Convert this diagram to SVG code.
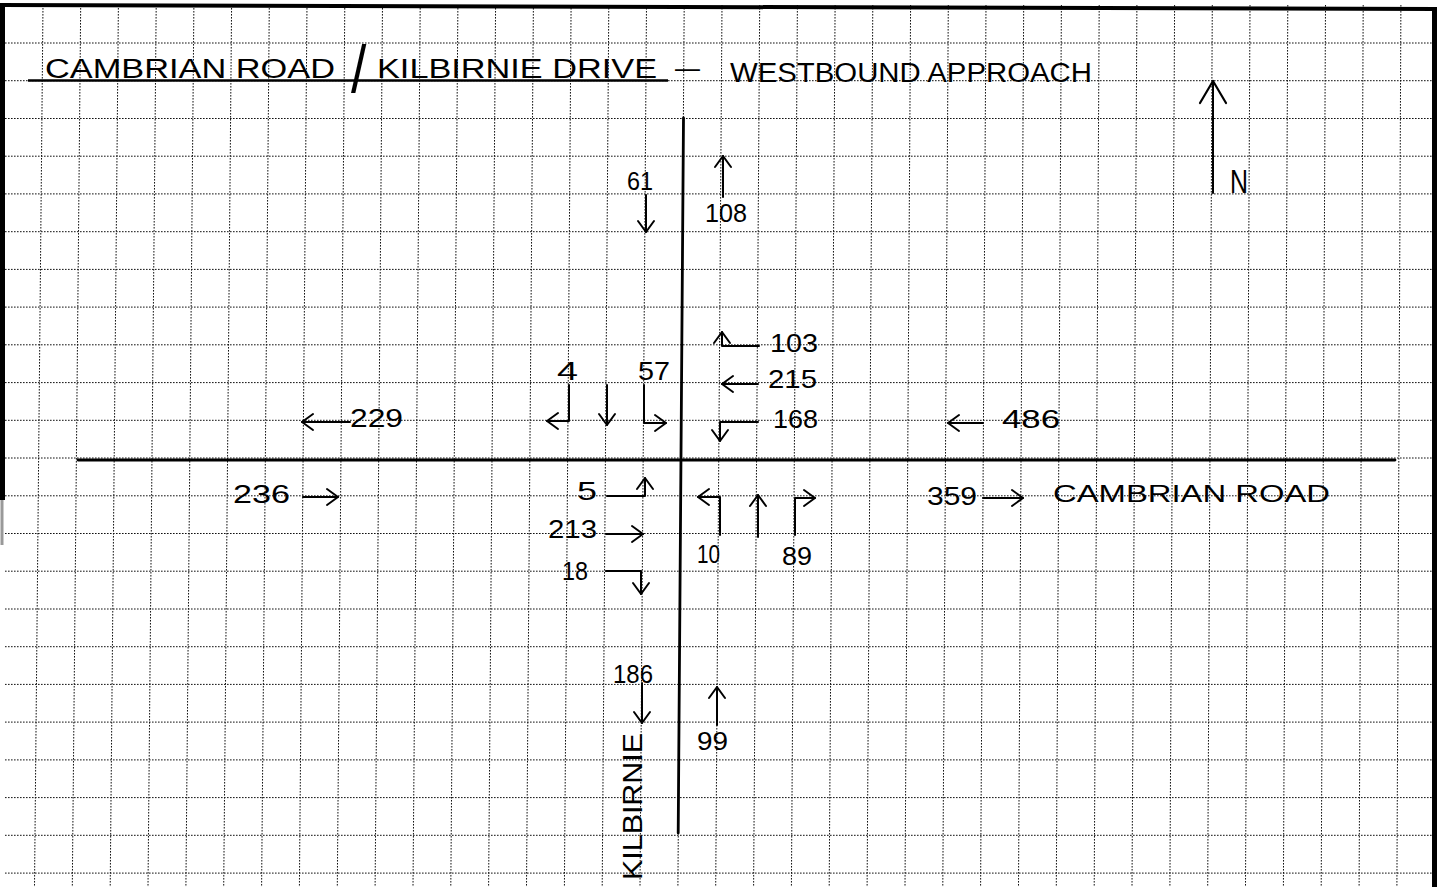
<svg xmlns="http://www.w3.org/2000/svg" width="1441" height="887" viewBox="0 0 1441 887">
<style>
.grid line{stroke:#111;stroke-width:1;stroke-dasharray:1.6 1.4;}
.border{stroke:#000;fill:none;}
.road{stroke:#000;stroke-width:2.8;stroke-linecap:round;}
.arr{fill:none;stroke:#000;stroke-width:2;stroke-linecap:round;stroke-linejoin:round;}
text{font-family:'Liberation Sans',Arial,sans-serif;fill:#000;}
.num{font-size:26px;}
.title{font-size:27px;}
</style>
<defs>
<marker id="ah" viewBox="-14 -10 16 20" refX="0" refY="0" markerWidth="16" markerHeight="20" markerUnits="userSpaceOnUse" orient="auto">
<path d="M-11,-8 L0,0 L-11,8" fill="none" stroke="#000" stroke-width="2" stroke-linecap="round" stroke-linejoin="round"/>
</marker>
<marker id="ahN" viewBox="-26 -16 28 32" refX="0" refY="0" markerWidth="28" markerHeight="32" markerUnits="userSpaceOnUse" orient="auto">
<path d="M-22,-13 L0,0 L-22,13" fill="none" stroke="#000" stroke-width="2.2" stroke-linecap="round" stroke-linejoin="round"/>
</marker>
</defs>
<rect width="1441" height="887" fill="#fff"/>
<g id="grid" class="grid">
<line x1="5" y1="43.0" x2="1432" y2="43.0"/>
<line x1="5" y1="80.7" x2="1432" y2="80.7"/>
<line x1="5" y1="118.5" x2="1432" y2="118.5"/>
<line x1="5" y1="156.2" x2="1432" y2="156.2"/>
<line x1="5" y1="193.9" x2="1432" y2="193.9"/>
<line x1="5" y1="231.7" x2="1432" y2="231.7"/>
<line x1="5" y1="269.4" x2="1432" y2="269.4"/>
<line x1="5" y1="307.1" x2="1432" y2="307.1"/>
<line x1="5" y1="344.8" x2="1432" y2="344.8"/>
<line x1="5" y1="382.6" x2="1432" y2="382.6"/>
<line x1="5" y1="420.3" x2="1432" y2="420.3"/>
<line x1="5" y1="458.0" x2="1432" y2="458.0"/>
<line x1="5" y1="495.8" x2="1432" y2="495.8"/>
<line x1="5" y1="533.5" x2="1432" y2="533.5"/>
<line x1="5" y1="571.2" x2="1432" y2="571.2"/>
<line x1="5" y1="609.0" x2="1432" y2="609.0"/>
<line x1="5" y1="646.7" x2="1432" y2="646.7"/>
<line x1="5" y1="684.4" x2="1432" y2="684.4"/>
<line x1="5" y1="722.1" x2="1432" y2="722.1"/>
<line x1="5" y1="759.9" x2="1432" y2="759.9"/>
<line x1="5" y1="797.6" x2="1432" y2="797.6"/>
<line x1="5" y1="835.3" x2="1432" y2="835.3"/>
<line x1="5" y1="873.1" x2="1432" y2="873.1"/>
<line x1="43.0" y1="5" x2="34.5" y2="887"/>
<line x1="80.7" y1="5" x2="72.3" y2="887"/>
<line x1="118.4" y1="5" x2="110.2" y2="887"/>
<line x1="156.2" y1="5" x2="148.0" y2="887"/>
<line x1="193.9" y1="5" x2="185.9" y2="887"/>
<line x1="231.6" y1="5" x2="223.7" y2="887"/>
<line x1="269.3" y1="5" x2="261.6" y2="887"/>
<line x1="307.0" y1="5" x2="299.4" y2="887"/>
<line x1="344.8" y1="5" x2="337.3" y2="887"/>
<line x1="382.5" y1="5" x2="375.1" y2="887"/>
<line x1="420.2" y1="5" x2="413.0" y2="887"/>
<line x1="457.9" y1="5" x2="450.8" y2="887"/>
<line x1="495.6" y1="5" x2="488.6" y2="887"/>
<line x1="533.4" y1="5" x2="526.5" y2="887"/>
<line x1="571.1" y1="5" x2="564.4" y2="887"/>
<line x1="608.8" y1="5" x2="602.2" y2="887"/>
<line x1="646.5" y1="5" x2="640.0" y2="887"/>
<line x1="684.2" y1="5" x2="677.9" y2="887"/>
<line x1="722.0" y1="5" x2="715.7" y2="887"/>
<line x1="759.7" y1="5" x2="753.6" y2="887"/>
<line x1="797.4" y1="5" x2="791.4" y2="887"/>
<line x1="835.1" y1="5" x2="829.2" y2="887"/>
<line x1="872.8" y1="5" x2="867.1" y2="887"/>
<line x1="910.6" y1="5" x2="905.0" y2="887"/>
<line x1="948.3" y1="5" x2="942.8" y2="887"/>
<line x1="986.0" y1="5" x2="980.6" y2="887"/>
<line x1="1023.7" y1="5" x2="1018.5" y2="887"/>
<line x1="1061.4" y1="5" x2="1056.3" y2="887"/>
<line x1="1099.2" y1="5" x2="1094.2" y2="887"/>
<line x1="1136.9" y1="5" x2="1132.0" y2="887"/>
<line x1="1174.6" y1="5" x2="1169.9" y2="887"/>
<line x1="1212.3" y1="5" x2="1207.7" y2="887"/>
<line x1="1250.0" y1="5" x2="1245.5" y2="887"/>
<line x1="1287.8" y1="5" x2="1283.4" y2="887"/>
<line x1="1325.5" y1="5" x2="1321.2" y2="887"/>
<line x1="1363.2" y1="5" x2="1359.1" y2="887"/>
<line x1="1400.9" y1="5" x2="1396.9" y2="887"/>
</g>
<g id="frame">
<line class="border" x1="0" y1="5" x2="1437" y2="9" stroke-width="4"/>
<line class="border" x1="2.5" y1="5" x2="2.5" y2="500" stroke-width="5"/>
<line x1="2" y1="500" x2="2" y2="545" stroke="#999" stroke-width="3"/>
<line class="border" x1="1434.5" y1="8" x2="1434.5" y2="887" stroke-width="5"/>
</g>
<g id="title">
<text class="title" x="45" y="78" textLength="290" lengthAdjust="spacingAndGlyphs">CAMBRIAN ROAD</text>
<text transform="translate(351,92) scale(2.3,2.8)" font-size="24">/</text>
<text class="title" x="377" y="78" textLength="280" lengthAdjust="spacingAndGlyphs">KILBIRNIE DRIVE</text>
<text class="title" x="675" y="77" textLength="25" lengthAdjust="spacingAndGlyphs">–</text>
<text class="title" x="730" y="82" textLength="362" lengthAdjust="spacingAndGlyphs">WESTBOUND APPROACH</text>
<line x1="28" y1="80.5" x2="668" y2="80.5" stroke="#000" stroke-width="2.5"/>
</g>
<g id="north">
<line x1="1213" y1="193" x2="1213" y2="81" class="arr" marker-end="url(#ahN)"/>
<text x="1230" y="193" font-size="34" textLength="18" lengthAdjust="spacingAndGlyphs">N</text>
</g>
<g id="roads">
<line class="road" x1="683.5" y1="118" x2="678.2" y2="833"/>
<line class="road" x1="78" y1="460" x2="1395" y2="460"/>
</g>
<g id="connectors">
<path class="arr" d="M646,195 L646,232" marker-end="url(#ah)"/>
<path class="arr" d="M723,197 L723,156" marker-end="url(#ah)"/>
<path class="arr" d="M759,346 L722,346 L722,332" marker-end="url(#ah)"/>
<path class="arr" d="M758,384 L722,384" marker-end="url(#ah)"/>
<path class="arr" d="M758,422 L720,422 L720,441" marker-end="url(#ah)"/>
<path class="arr" d="M569,385 L569,421 L547,421" marker-end="url(#ah)"/>
<path class="arr" d="M607,385 L607,425" marker-end="url(#ah)"/>
<path class="arr" d="M644,385 L644,423 L666,423" marker-end="url(#ah)"/>
<path class="arr" d="M607,496 L645,496 L645,478" marker-end="url(#ah)"/>
<path class="arr" d="M606,534 L643,534" marker-end="url(#ah)"/>
<path class="arr" d="M606,571 L641,571 L641,594" marker-end="url(#ah)"/>
<path class="arr" d="M720,535 L720,497 L698,497" marker-end="url(#ah)"/>
<path class="arr" d="M758,537 L758,495" marker-end="url(#ah)"/>
<path class="arr" d="M795,535 L795,498 L815,498" marker-end="url(#ah)"/>
<path class="arr" d="M350,422 L302,422" marker-end="url(#ah)"/>
<path class="arr" d="M303,497 L338,497" marker-end="url(#ah)"/>
<path class="arr" d="M983,423 L948,423" marker-end="url(#ah)"/>
<path class="arr" d="M983,498 L1023,498" marker-end="url(#ah)"/>
<path class="arr" d="M642,683 L642,723" marker-end="url(#ah)"/>
<path class="arr" d="M717,725 L717,687" marker-end="url(#ah)"/>
</g>
<g id="n-61"><text class="num" x="627" y="190" font-size="24" textLength="26" lengthAdjust="spacingAndGlyphs">61</text></g>
<g id="n-108"><text class="num" x="705" y="222" textLength="42" lengthAdjust="spacingAndGlyphs">108</text></g>
<g id="n-103"><text class="num" x="770" y="352" textLength="48" lengthAdjust="spacingAndGlyphs">103</text></g>
<g id="n-215"><text class="num" x="768" y="388" font-size="27" textLength="49" lengthAdjust="spacingAndGlyphs">215</text></g>
<g id="n-168"><text class="num" x="773" y="428" font-size="27" textLength="45" lengthAdjust="spacingAndGlyphs">168</text></g>
<g id="n-4"><text class="num" x="557" y="380" font-size="24" textLength="21" lengthAdjust="spacingAndGlyphs">4</text></g>
<g id="n-57"><text class="num" x="638" y="380" font-size="24" textLength="32" lengthAdjust="spacingAndGlyphs">57</text></g>
<g id="n-229"><text class="num" x="350" y="427" font-size="24" textLength="53" lengthAdjust="spacingAndGlyphs">229</text></g>
<g id="n-486"><text class="num" x="1002" y="428" font-size="27" textLength="58" lengthAdjust="spacingAndGlyphs">486</text></g>
<g id="n-236"><text class="num" x="233" y="503" font-size="27" textLength="57" lengthAdjust="spacingAndGlyphs">236</text></g>
<g id="n-359"><text class="num" x="927" y="505" font-size="27" textLength="50" lengthAdjust="spacingAndGlyphs">359</text></g>
<g id="n-5"><text class="num" x="577" y="500" font-size="25" textLength="20" lengthAdjust="spacingAndGlyphs">5</text></g>
<g id="n-213"><text class="num" x="548" y="538" font-size="23" textLength="49" lengthAdjust="spacingAndGlyphs">213</text></g>
<g id="n-18"><text class="num" x="562" y="580" font-size="24" textLength="26" lengthAdjust="spacingAndGlyphs">18</text></g>
<g id="n-10"><text class="num" x="697" y="563" font-size="21" textLength="23" lengthAdjust="spacingAndGlyphs">10</text></g>
<g id="n-89"><text class="num" x="782" y="565" textLength="30" lengthAdjust="spacingAndGlyphs">89</text></g>
<g id="n-186"><text class="num" x="613" y="683" font-size="21" textLength="40" lengthAdjust="spacingAndGlyphs">186</text></g>
<g id="n-99"><text class="num" x="697" y="750" font-size="23" textLength="31" lengthAdjust="spacingAndGlyphs">99</text></g>
<g id="label-cambrian"><text x="1053" y="502" font-size="24" textLength="277" lengthAdjust="spacingAndGlyphs">CAMBRIAN ROAD</text></g>
<g id="label-kilbirnie"><text transform="translate(642,880) rotate(-90)" font-size="27" textLength="147" lengthAdjust="spacingAndGlyphs">KILBIRNIE</text></g>
</svg>
